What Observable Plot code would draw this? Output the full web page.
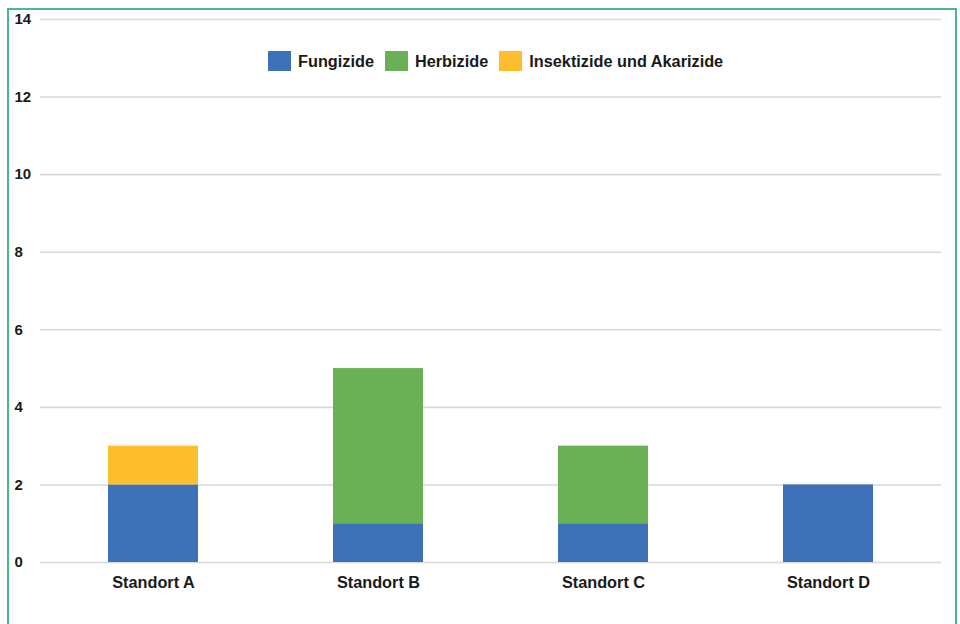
<!DOCTYPE html>
<html>
<head>
<meta charset="utf-8">
<script src="https://cdn.jsdelivr.net/npm/d3@7"></script>
<script src="https://cdn.jsdelivr.net/npm/@observablehq/plot@0.6"></script>
<style>
  html, body { margin: 0; padding: 0; background: #fff; overflow: hidden; }
  body { width: 960px; height: 624px; position: relative; font-family: "Liberation Sans", Arial, Helvetica, sans-serif; }
  #frame { position: absolute; left: 7px; top: 8px; width: 950px; height: 660px; border: 2px solid #4cb88a; box-sizing: border-box; }
  #chart { position: absolute; left: 0; top: 0; }
  #legend { position: absolute; left: 268px; top: 51px; display: flex; align-items: center; font-size: 16.3px; font-weight: bold; color: #1a1a1a; }
  #legend .item { display: flex; align-items: center; margin-right: 11px; }
  #legend .sw { width: 23px; height: 20px; margin-right: 7px; }
</style>
</head>
<body>
<div id="frame"></div>
<div id="chart"></div>
<div id="legend"></div>
<script>
// Pflanzenschutzmittel-Wirkstoffe je Standort
const standorte = ["Standort A", "Standort B", "Standort C", "Standort D"];
const gruppen = ["Fungizide", "Herbizide", "Insektizide und Akarizide"];
const fungizide = [2, 1, 1, 2];
const herbizide = [0, 4, 2, 0];
const insektizide = [1, 0, 0, 0];
const farben = ["#3d72b8", "#6ab156", "#fcbe2c"];
const yTicks = [0, 2, 4, 6, 8, 10, 12, 14];

const reihen = [fungizide, herbizide, insektizide];
const rows = [];
gruppen.forEach((g, gi) => {
  standorte.forEach((s, si) => {
    const v = reihen[gi][si];
    if (v > 0) rows.push({ standort: s, gruppe: g, wert: v });
  });
});

const chart = Plot.plot({
  width: 960,
  height: 624,
  marginLeft: 40,
  marginRight: 19,
  marginTop: 19,
  marginBottom: 62,
  style: { fontFamily: "'Liberation Sans', Arial, Helvetica, sans-serif", background: "transparent" },
  x: { domain: standorte, paddingInner: 0.6, paddingOuter: 0.3, label: null },
  y: { domain: [0, 14], label: null },
  color: { domain: gruppen, range: farben },
  marks: [
    Plot.gridY(yTicks, { stroke: "#d8d8d8", strokeOpacity: 1, strokeWidth: 1.6 }),
    Plot.barY(rows, {
      x: "standort",
      y: "wert",
      fill: "gruppe",
      order: gruppen
    }),
    Plot.axisY(yTicks, {
      tickSize: 0,
      tickPadding: 26,
      textAnchor: "start",
      fontSize: 15,
      fontWeight: "bold",
      fill: "#1a1a1a"
    }),
    Plot.axisX({
      tickSize: 0,
      tickPadding: 14,
      fontSize: 16.3,
      fontWeight: "bold",
      fill: "#1a1a1a"
    })
  ]
});
document.getElementById("chart").appendChild(chart);

// Legende
const legend = document.getElementById("legend");
gruppen.forEach((g, i) => {
  const item = document.createElement("div");
  item.className = "item";
  const sw = document.createElement("span");
  sw.className = "sw";
  sw.style.background = farben[i];
  const label = document.createElement("span");
  label.textContent = g;
  item.appendChild(sw);
  item.appendChild(label);
  legend.appendChild(item);
});
</script>
</body>
</html>
